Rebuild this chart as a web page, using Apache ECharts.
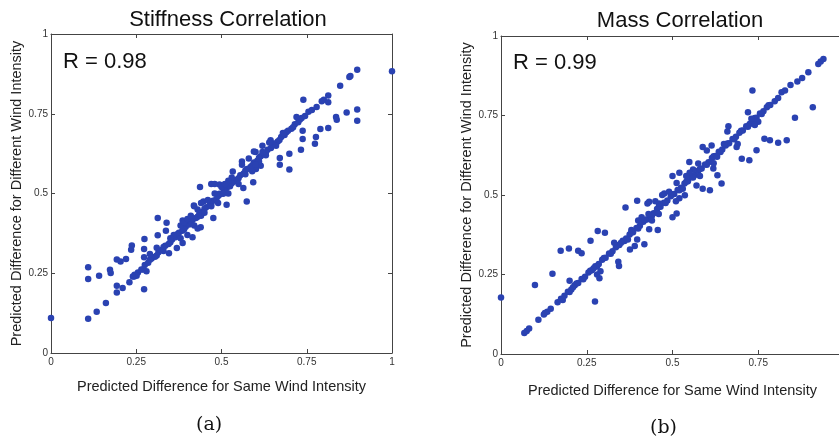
<!DOCTYPE html>
<html>
<head>
<meta charset="utf-8">
<title>Stiffness and Mass Correlation</title>
<script src="https://cdn.jsdelivr.net/npm/echarts@6/dist/echarts.min.js"></script>
<style>
html,body{margin:0;padding:0;background:#fff;}
#main{width:839px;height:442px;}
</style>
</head>
<body>
<div id="main"></div>
<script>
// tick values shared by both panels
var tickValues = [0, 0.25, 0.5, 0.75, 1];
var titles = ['Stiffness Correlation', 'Mass Correlation'];
var rLabels = ['R = 0.98', 'R = 0.99'];
var captions = ['(a)', '(b)'];

// (a) stiffness: points on the dense diagonal
var stiffLine = [
	[0.255,0.252],[0.265,0.262],[0.275,0.276],[0.285,0.283],[0.295,0.296],[0.305,0.302],[0.315,0.316],
	[0.325,0.323],[0.335,0.336],[0.345,0.342],[0.355,0.356],[0.365,0.363],[0.375,0.377],[0.385,0.383],
	[0.395,0.396],[0.405,0.403],[0.415,0.417],[0.425,0.423],[0.435,0.436],[0.445,0.443],[0.455,0.457],
	[0.465,0.463],[0.475,0.477],[0.485,0.483],[0.495,0.497],[0.505,0.503],[0.515,0.517],[0.525,0.523],
	[0.535,0.537],[0.545,0.543],[0.555,0.557],[0.565,0.563],[0.575,0.577],[0.585,0.583],[0.595,0.597],
	[0.605,0.603],[0.615,0.617],[0.625,0.623],[0.635,0.637],[0.645,0.643],[0.655,0.657],[0.665,0.663],
	[0.675,0.677],[0.685,0.683],[0.695,0.697],[0.705,0.703],[0.715,0.717],[0.725,0.723],[0.735,0.737],
	[0.745,0.743],[0.755,0.756],[0.765,0.762],
	[0.27,0.262],[0.29,0.292],[0.31,0.306],[0.33,0.332],[0.35,0.347],[0.37,0.372],[0.39,0.387],
	[0.41,0.412],[0.43,0.427],[0.45,0.452],[0.47,0.467],[0.49,0.492],[0.51,0.507],[0.53,0.532],
	[0.55,0.548],[0.57,0.572],[0.59,0.588],[0.61,0.612],[0.63,0.628],[0.65,0.652],[0.67,0.668],
	[0.69,0.692],[0.71,0.708],[0.73,0.732]
];
// (a) stiffness: scattered points
var stiffScatter = [
	[0,0.11],[1,0.883],[0.109,0.107],[0.109,0.232],[0.109,0.269],[0.134,0.129],[0.141,0.242],
	[0.161,0.157],[0.173,0.261],[0.175,0.251],[0.193,0.19],[0.193,0.211],[0.193,0.293],[0.204,0.287],
	[0.21,0.204],[0.22,0.295],[0.23,0.222],[0.235,0.324],[0.237,0.337],[0.244,0.24],[0.251,0.242],
	[0.274,0.357],[0.273,0.326],[0.273,0.3],[0.273,0.2],[0.28,0.256],[0.313,0.423],[0.313,0.369],
	[0.339,0.408],[0.337,0.383],[0.346,0.313],[0.369,0.329],[0.386,0.345],[0.386,0.415],[0.415,0.363],
	[0.419,0.462],[0.437,0.52],[0.439,0.394],[0.447,0.475],[0.476,0.423],[0.494,0.499],[0.494,0.528],
	[0.505,0.499],[0.515,0.465],[0.533,0.569],[0.564,0.517],[0.574,0.475],[0.593,0.535],[0.595,0.632],
	[0.601,0.577],[0.615,0.587],[0.644,0.667],[0.671,0.611],[0.671,0.59],[0.699,0.625],[0.699,0.575],
	[0.733,0.637],[0.738,0.671],[0.738,0.697],[0.74,0.794],[0.774,0.656],[0.777,0.677],[0.779,0.771],
	[0.79,0.702],[0.8,0.794],[0.813,0.807],[0.813,0.786],[0.813,0.705],[0.836,0.74],[0.838,0.731],
	[0.848,0.838],[0.867,0.754],[0.875,0.865],[0.878,0.868],[0.898,0.888],[0.898,0.763],[0.898,0.728],
	[0.794,0.789],[0.36,0.37],[0.38,0.40],[0.39,0.41],[0.40,0.42],[0.41,0.43],[0.42,0.40],[0.43,0.45],
	[0.44,0.43],[0.45,0.44],[0.46,0.48],[0.47,0.46],[0.48,0.50],[0.49,0.47],[0.50,0.52],[0.51,0.53],
	[0.52,0.50],[0.53,0.55],[0.55,0.53],[0.56,0.60],[0.57,0.56],[0.58,0.61],[0.59,0.57],[0.60,0.63],
	[0.61,0.60],[0.62,0.65],[0.63,0.62],[0.64,0.66],[0.66,0.65],[0.68,0.69],[0.72,0.74],[0.43,0.39],
	[0.44,0.47],[0.47,0.53],[0.48,0.53],[0.38,0.36],[0.40,0.37],[0.42,0.46],[0.33,0.32],[0.35,0.36],
	[0.31,0.33],[0.29,0.31],[0.245,0.245],[0.24,0.24],[0.56,0.59],[0.62,0.63],[0.60,0.59],[0.52,0.54]
];

// (b) mass: points on the dense diagonal
var massLine = [
	[0.068,0.066],[0.075,0.072],[0.082,0.080],[0.125,0.124],[0.135,0.133],[0.145,0.142],
	[0.165,0.163],[0.175,0.174],[0.185,0.183],[0.195,0.196],[0.205,0.203],[0.215,0.216],[0.225,0.223],
	[0.235,0.236],[0.245,0.243],[0.255,0.256],[0.265,0.263],[0.275,0.276],[0.285,0.283],[0.295,0.296],
	[0.305,0.303],[0.315,0.316],[0.325,0.323],[0.335,0.336],[0.345,0.343],[0.355,0.356],[0.365,0.363],
	[0.375,0.376],[0.385,0.383],[0.395,0.396],[0.405,0.403],[0.415,0.416],[0.425,0.423],[0.435,0.436],
	[0.445,0.443],[0.455,0.456],[0.465,0.463],[0.475,0.476],[0.485,0.483],[0.495,0.496],[0.505,0.503],
	[0.515,0.516],[0.525,0.523],[0.535,0.536],[0.545,0.543],[0.555,0.556],[0.565,0.563],[0.575,0.576],
	[0.585,0.583],[0.595,0.596],[0.605,0.603],[0.615,0.616],[0.625,0.623],[0.635,0.636],[0.645,0.643],
	[0.655,0.656],[0.665,0.663],[0.675,0.676],[0.685,0.683],[0.695,0.696],[0.705,0.703],[0.715,0.716],
	[0.725,0.723],[0.735,0.736],[0.745,0.743],[0.755,0.756],[0.765,0.763],[0.775,0.776],[0.785,0.783],
	[0.20,0.195],[0.22,0.222],[0.24,0.235],[0.26,0.262],[0.28,0.275],[0.30,0.302],[0.32,0.315],
	[0.34,0.342],[0.36,0.355],[0.38,0.382],[0.40,0.395],[0.42,0.422],[0.44,0.435],[0.46,0.462],
	[0.48,0.475],[0.50,0.502],[0.52,0.515],[0.54,0.542],[0.56,0.555],[0.58,0.582],[0.60,0.595],
	[0.62,0.622],[0.64,0.635],[0.66,0.662],[0.68,0.675],[0.70,0.702],[0.72,0.715],[0.74,0.742],
	[0.76,0.755],[0.78,0.782]
];
// (b) mass: scattered points
var massScatter = [
	[0,0.178],[0.099,0.217],[0.109,0.108],[0.128,0.129],[0.15,0.252],[0.174,0.325],[0.198,0.332],
	[0.225,0.325],[0.235,0.317],[0.261,0.356],[0.274,0.165],[0.282,0.387],[0.287,0.238],[0.303,0.381],
	[0.342,0.29],[0.344,0.277],[0.363,0.461],[0.376,0.329],[0.39,0.34],[0.397,0.482],[0.397,0.36],
	[0.418,0.345],[0.427,0.473],[0.432,0.479],[0.432,0.392],[0.457,0.39],[0.461,0.473],[0.476,0.505],
	[0.5,0.43],[0.512,0.442],[0.512,0.538],[0.536,0.499],[0.549,0.604],[0.575,0.599],[0.588,0.651],
	[0.588,0.52],[0.609,0.515],[0.614,0.656],[0.619,0.583],[0.631,0.562],[0.643,0.536],[0.663,0.716],
	[0.687,0.651],[0.702,0.614],[0.724,0.609],[0.733,0.829],[0.745,0.641],[0.768,0.677],[0.784,0.672],
	[0.808,0.664],[0.833,0.672],[0.857,0.743],[0.909,0.776],[0.798,0.795],[0.808,0.805],[0.818,0.823],
	[0.828,0.829],[0.844,0.846],[0.864,0.857],[0.878,0.868],[0.896,0.886],[0.925,0.912],[0.932,0.92],
	[0.94,0.928],[0.72,0.76],[0.73,0.74],[0.75,0.73],[0.66,0.70],[0.65,0.66],[0.63,0.62],[0.62,0.60],
	[0.58,0.56],[0.57,0.53],[0.56,0.58],[0.55,0.57],[0.53,0.52],[0.52,0.49],[0.51,0.48],[0.50,0.56],
	[0.49,0.51],[0.47,0.50],[0.46,0.44],[0.45,0.48],[0.44,0.42],[0.43,0.44],[0.41,0.43],[0.40,0.42],
	[0.38,0.39],[0.37,0.36],[0.35,0.35],[0.33,0.35],[0.29,0.26],[0.28,0.25],[0.27,0.27],[0.21,0.21],
	[0.20,0.23],[0.18,0.17],[0.52,0.57],[0.54,0.56],[0.60,0.64],[0.69,0.66],[0.74,0.72]
];

var dotColor = '#2a42b2';
var axisColor = '#444';

function makeXAxis(gridIndex, pos, showLabel){
	return {
		type: 'value', gridIndex: gridIndex, position: pos,
		min: 0, max: 1, interval: 0.25,
		axisLine: {show: true, onZero: false, lineStyle: {color: axisColor, width: 1}},
		axisTick: {show: true, inside: true, length: 4, lineStyle: {color: axisColor}},
		axisLabel: {show: showLabel, color: '#333', fontSize: 10, margin: 4, fontFamily: 'Liberation Sans'},
		splitLine: {show: false}
	};
}
function makeYAxis(gridIndex, pos, showLabel){
	return {
		type: 'value', gridIndex: gridIndex, position: pos,
		min: 0, max: 1, interval: 0.25,
		axisLine: {show: true, onZero: false, lineStyle: {color: axisColor, width: 1}},
		axisTick: {show: true, inside: true, length: 4, lineStyle: {color: axisColor}},
		axisLabel: {show: showLabel, color: '#333', fontSize: 10, margin: 3, fontFamily: 'Liberation Sans'},
		splitLine: {show: false}
	};
}

var xAxes = [], yAxes = [];
for (var i = 0; i < 2; i++) {
	var xa = makeXAxis(i, 'bottom', true), ya = makeYAxis(i, 'left', true);
	xa.name = 'Predicted Difference for Same Wind Intensity';
	xa.nameLocation = 'middle';
	xa.nameGap = i == 0 ? 26 : 29;
	xa.nameTextStyle = {fontSize: 14.5, color: '#222', fontFamily: 'Liberation Sans'};
	ya.name = 'Predicted Difference for Different Wind Intensity';
	ya.nameLocation = 'middle';
	ya.nameGap = 25;
	ya.nameTextStyle = {fontSize: 14.5, color: '#222', fontFamily: 'Liberation Sans'};
	xAxes.push(xa);
	yAxes.push(ya);
}
xAxes.push(makeXAxis(0, 'top', false), makeXAxis(1, 'top', false));
yAxes.push(makeYAxis(0, 'right', false), makeYAxis(1, 'right', false));

var option = {
	backgroundColor: '#fff',
	animation: false,
	title: [
		{text: titles[0], left: 223, top: 4, textAlign: 'center',
			textStyle: {fontSize: 22, fontWeight: 'normal', color: '#111', fontFamily: 'Liberation Sans'}},
		{text: titles[1], left: 675, top: 5, textAlign: 'center',
			textStyle: {fontSize: 22, fontWeight: 'normal', color: '#111', fontFamily: 'Liberation Sans'}}
	],
	grid: [
		{left: 51, top: 34, width: 341, height: 319, outerBoundsMode: 'none'},
		{left: 501, top: 36, width: 343, height: 318, outerBoundsMode: 'none'}
	],
	xAxis: xAxes,
	yAxis: yAxes,
	graphic: [
		{type: 'text', left: 63, top: 51, style: {text: rLabels[0], fontSize: 22, fill: '#111', fontFamily: 'Liberation Sans'}},
		{type: 'text', left: 513, top: 52, style: {text: rLabels[1], fontSize: 22, fill: '#111', fontFamily: 'Liberation Sans'}},
		{type: 'text', left: 196, top: 416, style: {text: captions[0], fontSize: 19, fill: '#111', fontFamily: 'DejaVu Serif'}},
		{type: 'text', left: 650, top: 419, style: {text: captions[1], fontSize: 19, fill: '#111', fontFamily: 'DejaVu Serif'}}
	],
	series: [
		{type: 'scatter', xAxisIndex: 0, yAxisIndex: 0, data: stiffLine, symbolSize: 6.5, itemStyle: {color: dotColor, opacity: 1}},
		{type: 'scatter', xAxisIndex: 0, yAxisIndex: 0, data: stiffScatter, symbolSize: 6.5, itemStyle: {color: dotColor, opacity: 1}},
		{type: 'scatter', xAxisIndex: 1, yAxisIndex: 1, data: massLine, symbolSize: 6.5, itemStyle: {color: dotColor, opacity: 1}},
		{type: 'scatter', xAxisIndex: 1, yAxisIndex: 1, data: massScatter, symbolSize: 6.5, itemStyle: {color: dotColor, opacity: 1}}
	]
};

var myChart = echarts.init(document.getElementById('main'));
if (option && typeof option === "object") {
	myChart.setOption(option, true);
}
</script>
</body>
</html>
